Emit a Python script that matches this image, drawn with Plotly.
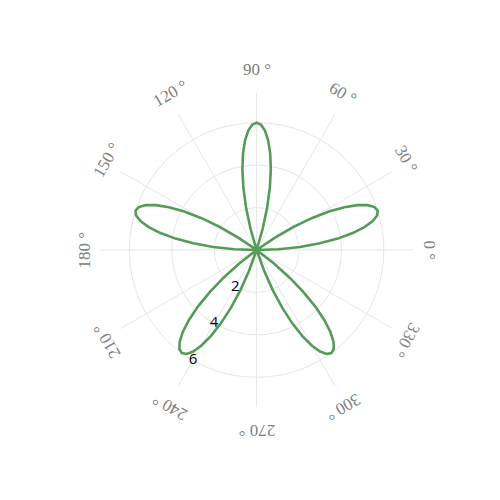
import math
import plotly.graph_objects as go

# --- data -------------------------------------------------------------
# five-petal rose, sampled every 2 degrees from 0 to 360
PETAL_R = [0, 1.04, 2.05, 3.0, 3.86, 4.6, 5.2, 5.64, 5.91, 6.0,
           5.91, 5.64, 5.2, 4.6, 3.86, 3.0, 2.05, 1.04, 0]
GAP_R = [0] * 17
END_GAP_R = [0] * 18
r_values = (PETAL_R + GAP_R + PETAL_R + GAP_R + PETAL_R + GAP_R +
            PETAL_R + GAP_R + PETAL_R + END_GAP_R)
theta_values = list(range(0, 361, 2))

angle_ticks = [0, 30, 60, 90, 120, 150, 180, 210, 240, 270, 300, 330]
angle_labels = ["0 °", "30 °", "60 °", "90 °", "120 °", "150 °", "180 °",
                "210 °", "240 °", "270 °", "300 °", "330 °"]
radial_ticks = [2, 4, 6]
radial_labels = ["2", "4", "6"]
radial_label_angle = 240

# --- layout geometry ---------------------------------------------------
W = H = 500
CX, CY = 248.6, 242.0      # pixel centre of polar area (figure coords)
RAD = 157.0                # pixel radius of polar area
LAB_RX, LAB_RY = 173.0, 181.0

fig = go.Figure()
fig.add_trace(go.Scatterpolar(
    r=r_values, theta=theta_values, mode="lines",
    line=dict(color="rgb(84,155,88)", width=2.6),
    showlegend=False, hoverinfo="skip",
))
fig.add_trace(go.Scatterpolar(
    r=radial_ticks, theta=[radial_label_angle] * len(radial_ticks),
    mode="text", text=radial_labels,
    textfont=dict(family="Open Sans", size=15, color="black"),
    showlegend=False, hoverinfo="skip", cliponaxis=False,
))

annotations = []
for ang, lab in zip(angle_ticks, angle_labels):
    rad = math.radians(ang)
    px = CX + LAB_RX * math.cos(rad)
    py = CY - LAB_RY * math.sin(rad)
    annotations.append(dict(
        x=px / W, y=1 - py / H, xref="paper", yref="paper",
        text=lab, showarrow=False, textangle=90 - ang,
        font=dict(family="Liberation Serif", size=17, color="#808080"),
        xanchor="center", yanchor="middle",
    ))

fig.update_layout(
    width=W, height=H,
    margin=dict(l=0, r=0, t=0, b=0),
    paper_bgcolor="white",
    annotations=annotations,
    polar=dict(
        domain=dict(x=[(CX - RAD) / W, (CX + RAD) / W],
                    y=[1 - (CY + RAD) / H, 1 - (CY - RAD) / H]),
        bgcolor="white",
        radialaxis=dict(
            range=[0, 7.4], tickvals=radial_ticks, showticklabels=False,
            showline=False, ticks="", gridcolor="#e6e6e6", gridwidth=1,
        ),
        angularaxis=dict(
            tickvals=angle_ticks, showticklabels=False, showline=False,
            ticks="", gridcolor="#e6e6e6", gridwidth=1,
            direction="counterclockwise", rotation=0,
        ),
    ),
)

fig.write_html("out.html")
